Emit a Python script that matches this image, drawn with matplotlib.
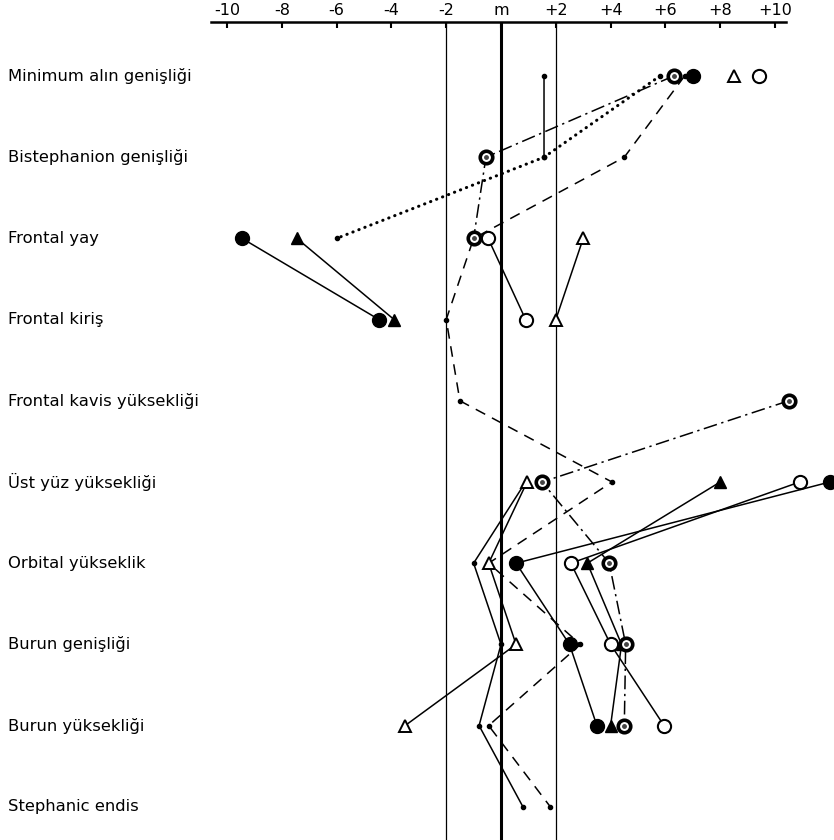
import numpy as np
import matplotlib
matplotlib.use("Agg")
import matplotlib.pyplot as plt
import matplotlib.transforms as mtransforms

nan = np.nan

rows = ["Minimum alın genişliği", "Bistephanion genişliği", "Frontal yay",
        "Frontal kiriş", "Frontal kavis yüksekliği", "Üst yüz yüksekliği",
        "Orbital yükseklik", "Burun genişliği", "Burun yüksekliği",
        "Stephanic endis"]

tick_vals = [-10, -8, -6, -4, -2, 0, 2, 4, 6, 8, 10]
tick_labels = ["-10", "-8", "-6", "-4", "-2", "m", "+2", "+4", "+6", "+8", "+10"]

# one list per group, one value per row (nan = no value)
filled_circle = [7.0, nan, -9.45, -4.45, nan, 12.0, 0.55, 2.5, 3.5, nan]
filled_tri = [nan, nan, -7.45, -3.9, nan, 8.0, 3.15, 4.4, 4.0, nan]
open_circle = [9.4, nan, -0.47, 0.9, nan, 10.9, 2.55, 4.0, 5.95, nan]
open_tri = [8.5, nan, 3.0, 2.0, nan, 0.95, -0.45, 0.55, -3.5, nan]
ring = [6.3, -0.55, -1.0, nan, 10.5, 1.5, 3.95, 4.55, 4.5, nan]
dashed = [6.7, 4.5, -1.0, -2.0, -1.5, 4.05, -0.45, 2.9, -0.45, 1.8]
dotted = [5.8, 1.57, -6.0, nan, nan, nan, nan, nan, nan, nan]
solid_dot = [1.57, 1.57, nan, nan, nan, 0.9, -1.0, 0.0, -0.8, 0.8]

y = np.arange(len(rows))

fig = plt.figure(figsize=(8.34, 8.4), dpi=100)
ax = fig.add_axes([200 / 834, 0, 634 / 834, (840 - 22) / 840])
ax.set_xlim((200 - 501) / 27.4, (834 - 501) / 27.4)
ax.set_ylim((840 - 76) / 81.2, (22 - 76) / 81.2)

# reference lines
for v, lw in [(-2, 0.9), (0, 2.2), (2, 0.9)]:
    ax.axvline(v, color="black", lw=lw, zorder=1)

lw = 1.1
ax.plot(solid_dot, y, color="black", lw=lw, marker="o", ms=3, zorder=2)
ax.plot(dotted, y, color="black", lw=2.2, ls=(0, (0.1, 2.0)), marker="o", ms=3,
        dash_capstyle="round", zorder=2)
ax.plot(dashed, y, color="black", lw=lw, ls=(0, (7, 5)), marker="o", ms=3, zorder=2)
ax.plot(ring, y, color="black", lw=lw, ls=(0, (9, 3, 1.5, 3)), zorder=2)

ax.plot(filled_circle, y, color="black", lw=lw, marker="o", ms=10, zorder=3)
ax.plot(filled_tri, y, color="black", lw=lw, marker="^", ms=9, zorder=3)
ax.plot(open_circle, y, color="black", lw=lw, marker="o", ms=9.5,
        mfc="white", mec="black", mew=1.5, zorder=3)
ax.plot(open_tri, y, color="black", lw=lw, marker="^", ms=8.5,
        mfc="white", mec="black", mew=1.4, zorder=3)
ax.plot(ring, y, ls="none", marker="o", ms=9, mfc="white", mec="black", mew=2.6, zorder=4)
ax.plot(ring, y, ls="none", marker="o", ms=2.5, color="#444444", zorder=5)

# top scale
for s in ["left", "right", "bottom"]:
    ax.spines[s].set_visible(False)
ax.spines["top"].set_linewidth(1.8)
ax.spines["top"].set_bounds(-10.6, 10.4)
ax.xaxis.tick_top()
ax.set_xticks(tick_vals)
ax.set_xticklabels(tick_labels, fontsize=11.5)
ax.tick_params(axis="x", direction="in", length=4, width=1.5, pad=3)
ax.set_yticks([])

trans = mtransforms.blended_transform_factory(fig.transFigure, ax.transData)
for i, name in enumerate(rows):
    ax.text(8 / 834, i, name, transform=trans, ha="left", va="center",
            fontsize=11.8, clip_on=False)

fig.savefig("out.png", dpi=100)
